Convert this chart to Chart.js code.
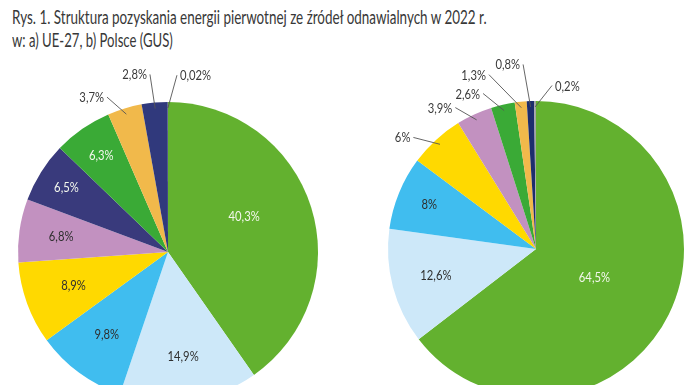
<!DOCTYPE html>
<html>
<head>
<meta charset="utf-8">
<script src="https://cdn.jsdelivr.net/npm/chart.js@4.4.1/dist/chart.umd.min.js"></script>
<style>
  html, body { margin: 0; padding: 0; background: #fff; width: 696px; height: 385px; overflow: hidden; position: relative; }
  .title { position: absolute; left: 12px; font-family: Lato, sans-serif; font-size: 18.5px; line-height: 1; color: #383838; white-space: nowrap; transform-origin: 0 0; }
  #t1 { top: 8px; }
  #t2 { top: 31px; }
  canvas { position: absolute; }
  #ue { left: 0; top: 60px; }
  #pl { left: 348px; top: 55px; }
</style>
</head>
<body>
<div class="title" id="t1">Rys. 1. Struktura pozyskania energii pierwotnej ze źródeł odnawialnych w 2022 r.</div>
<div class="title" id="t2">w: a) UE-27, b) Polsce (GUS)</div>
<canvas id="ue" width="340" height="360"></canvas>
<canvas id="pl" width="348" height="350"></canvas>
<script>
  // udzialy procentowe (%), ta sama kolejnosc kategorii w obu wykresach
  let ueValues = [40.3, 14.9, 9.8, 8.9, 6.8, 6.5, 6.3, 3.7, 2.8, 0.02];
  let plValues = [64.5, 12.6, 8, 6, 3.9, 0, 2.6, 1.3, 0.8, 0.2];
  let ueColors = ["#63b12f", "#cde8f9", "#40bdef", "#ffd900", "#c291c0", "#393a7c", "#3aaa36", "#f1b94b", "#30397c", "#9e9e9e"];
  let plColors = ["#63b12f", "#cde8f9", "#40bdef", "#ffd900", "#c291c0", "#393a7c", "#3aaa36", "#f1b94b", "#1d2d6d", "#a3a3a3"];

  // polozenie etykiet: r = ulamek promienia, a = kat (stopnie od gory), out = z linia
  let uePlace = [
    { r: 0.56, a: 65 }, { r: 0.71 }, { r: 0.69 }, { r: 0.67 }, { r: 0.72 }, { r: 0.8 }, { r: 0.78 },
    { out: true, a: 338.5, r: 1.11 }, { out: true, a: 354.2, r: 1.19 }, { out: true, a: 2.9, r: 1.18 }
  ];
  let plPlace = [
    { r: 0.44 }, { r: 0.7 }, { r: 0.78 },
    { out: true, a: 312.3, r: 1.12 }, { out: true, a: 330.3, r: 1.1 }, {},
    { out: true, a: 341.2, r: 1.11 }, { out: true, a: 344.9, r: 1.22 },
    { out: true, a: 356, r: 1.25 }, { out: true, a: 5.6, r: 1.11 }
  ];

  function fmt(v) {
    return String(v).replace(".", ",") + "%";
  }

  // tekst lekko zwezony, jak w oryginale
  function narrowText(ctx, text, x, y) {
    ctx.save();
    ctx.translate(x, y);
    ctx.scale(0.9, 1);
    ctx.fillText(text, 0, 0);
    ctx.restore();
  }

  function makeLabels(place, light) {
    return {
      id: "pieLabels",
      afterDatasetsDraw: function (chart) {
        let ctx = chart.ctx;
        let data = chart.data.datasets[0].data;
        let meta = chart.getDatasetMeta(0);
        ctx.save();
        ctx.font = "12.5px Lato, sans-serif";
        ctx.textBaseline = "middle";
        meta.data.forEach(function (arc, i) {
          let v = data[i];
          if (!v) return;
          let p = arc.getProps(["x", "y", "startAngle", "endAngle", "outerRadius"], true);
          let mid = (p.startAngle + p.endAngle) / 2;
          let pl = place[i];
          let a = pl.a !== undefined ? (pl.a - 90) * Math.PI / 180 : mid;
          let tx = p.x + Math.cos(a) * p.outerRadius * pl.r;
          let ty = p.y + Math.sin(a) * p.outerRadius * pl.r;
          if (pl.out) {
            let sx = p.x + Math.cos(mid) * p.outerRadius * 0.96;
            let sy = p.y + Math.sin(mid) * p.outerRadius * 0.96;
            ctx.strokeStyle = "#555";
            ctx.lineWidth = 0.9;
            ctx.beginPath();
            ctx.moveTo(sx, sy);
            ctx.lineTo(tx, ty);
            ctx.stroke();
            ctx.fillStyle = "#3a3a3a";
            if (tx < p.x) {
              ctx.textAlign = "right";
              narrowText(ctx, fmt(v), tx - 3, ty + 1);
            } else {
              ctx.textAlign = "left";
              narrowText(ctx, fmt(v), tx + 3, ty + 1);
            }
          } else {
            ctx.textAlign = "center";
            ctx.fillStyle = light.indexOf(i) >= 0 ? "#f4f8ee" : "#2f2f2f";
            narrowText(ctx, fmt(v), tx, ty);
          }
        });
        ctx.restore();
      }
    };
  }

  function makePie(id, values, colors, padding, place, light) {
    return new Chart(document.getElementById(id), {
      type: "pie",
      data: {
        labels: values.map(fmt),
        datasets: [{ data: values, backgroundColor: colors, borderWidth: 0 }]
      },
      options: {
        responsive: false,
        animation: false,
        devicePixelRatio: 1,
        layout: { padding: padding },
        plugins: { legend: { display: false }, tooltip: { enabled: false } }
      },
      plugins: [makeLabels(place, light)]
    });
  }

  makePie("ue", ueValues, ueColors, { left: 18, right: 22, top: 42, bottom: 18 }, uePlace, [0, 5, 6]);
  makePie("pl", plValues, plColors, { left: 40, right: 12, top: 46, bottom: 8 }, plPlace, [0]);

  // tytul: kazda linia zwezona do szerokosci jak w oryginale
  let t1 = document.getElementById("t1");
  let t2 = document.getElementById("t2");
  t1.style.transform = "scaleX(" + (475 / t1.offsetWidth) + ")";
  t2.style.transform = "scaleX(" + (161 / t2.offsetWidth) + ")";
</script>
</body>
</html>
